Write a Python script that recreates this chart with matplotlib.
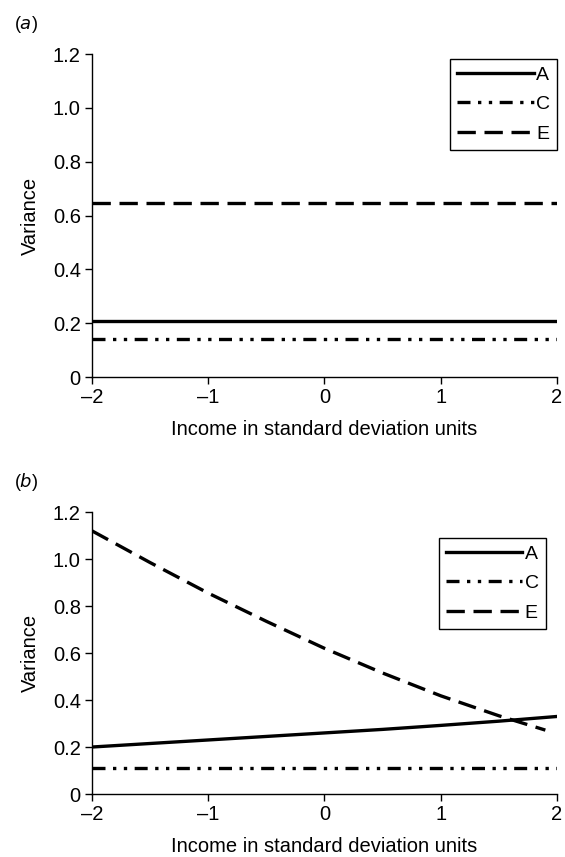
import numpy as np
import matplotlib
matplotlib.use("Agg")
import matplotlib.pyplot as plt

plt.rcParams['font.family'] = ['Liberation Sans', 'DejaVu Sans']

# panel (a): constant variance components
x_a = [-2, 2]
a_A = [0.21, 0.21]
a_C = [0.143, 0.143]
a_E = [0.645, 0.645]

# panel (b): components varying with income
x_b = [-2.0, -1.5, -1.0, -0.5, 0.0, 0.5, 1.0, 1.5, 2.0]
b_A = [0.200, 0.215, 0.230, 0.245, 0.260, 0.275, 0.292, 0.310, 0.330]
b_C = [0.110, 0.110, 0.110, 0.110, 0.110, 0.110, 0.110, 0.110, 0.110]
x_bE = [-2.0, -1.5, -1.0, -0.5, 0.0, 0.5, 1.0, 1.5, 1.9]
b_E = [1.12, 0.985, 0.855, 0.735, 0.62, 0.515, 0.418, 0.333, 0.272]

xticks = [-2, -1, 0, 1, 2]
xticklabels = ['\u20132', '\u20131', '0', '1', '2']
yticks = [0, 0.2, 0.4, 0.6, 0.8, 1.0, 1.2]
yticklabels = ['0', '0.2', '0.4', '0.6', '0.8', '1.0', '1.2']

lw = 2.4
style_C = (0, (3.9, 2.25, 1.0, 2.25, 1.0, 2.25))
style_E = (0, (5.5, 2.6))

fig = plt.figure(figsize=(5.65, 8.57), dpi=100)
ax1 = fig.add_axes([0.1628, 0.560, 0.823, 0.3769])
ax2 = fig.add_axes([0.1628, 0.0735, 0.823, 0.329])


def style_axes(ax, legend_anchor):
    ax.set_xlim(-2, 2)
    ax.set_ylim(0, 1.2)
    ax.set_xticks(xticks)
    ax.set_xticklabels(xticklabels)
    ax.set_yticks(yticks)
    ax.set_yticklabels(yticklabels)
    ax.spines['top'].set_visible(False)
    ax.spines['right'].set_visible(False)
    ax.spines['left'].set_linewidth(1.0)
    ax.spines['bottom'].set_linewidth(1.0)
    ax.tick_params(direction='out', length=5, width=1.0, labelsize=14.5, pad=3)
    ax.set_xlabel('Income in standard deviation units', fontsize=14.5, labelpad=9)
    ax.set_ylabel('Variance', fontsize=14.5, labelpad=9)
    leg = ax.legend(loc='upper right', bbox_to_anchor=legend_anchor, fontsize=14,
                    handlelength=3.95, handletextpad=0.12, borderpad=0.36,
                    labelspacing=0.62, fancybox=False, framealpha=1,
                    edgecolor='black', borderaxespad=0)
    leg.get_frame().set_linewidth(1.0)


ax1.plot(x_a, a_A, color='black', lw=lw, linestyle='-', label='A')
ax1.plot(x_a, a_C, color='black', lw=lw, linestyle=style_C, label='C')
ax1.plot(x_a, a_E, color='black', lw=lw, linestyle=style_E, label='E')
style_axes(ax1, (1.0, 0.985))
fig.text(0.025, 0.971, r'($\it{a}$)', fontsize=13, va='center')

ax2.plot(x_b, b_A, color='black', lw=lw, linestyle='-', label='A')
ax2.plot(x_b, b_C, color='black', lw=lw, linestyle=style_C, label='C')
ax2.plot(x_bE, b_E, color='black', lw=lw, linestyle=style_E, label='E')
style_axes(ax2, (0.976, 0.908))
fig.text(0.025, 0.4376, r'($\it{b}$)', fontsize=13, va='center')

fig.savefig('out.png', dpi=100)
